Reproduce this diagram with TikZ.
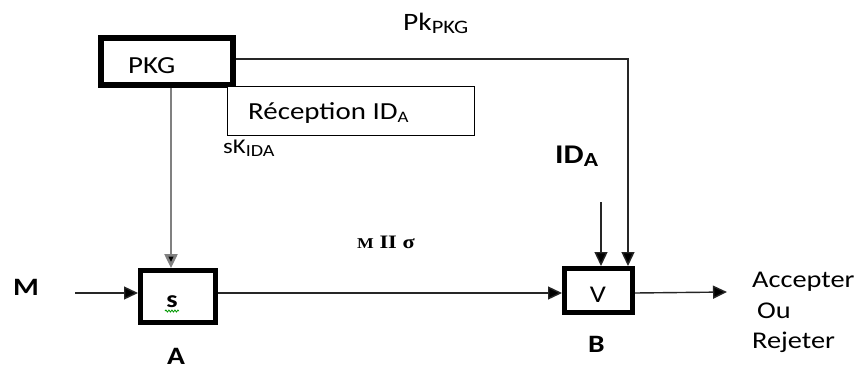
\documentclass[tikz,border=0pt]{standalone}
\usepackage{fontspec}
\setmainfont{Carlito}[FakeStretch=1.18]
\newfontfamily\serifbold{Liberation Serif}[FakeStretch=1.18]
\usetikzlibrary{arrows.meta,decorations.pathmorphing}

\newcommand\fs[1]{\fontsize{#1}{#1}\selectfont}
\newcommand\lowsub[2]{\raisebox{-3pt}{\fs{#1}#2}}

\begin{document}
\begin{tikzpicture}[x=1pt,y=-1pt,
  boxnode/.style={draw=black, fill=white, inner sep=0pt},
  txt/.style={inner sep=0pt, anchor=base west, text=black},
  ctxt/.style={inner sep=0pt, anchor=base, text=black},
  wire/.style={draw=black!85, line width=1.4pt},
  graywire/.style={draw=black!50, line width=2.5pt},
  tip/.style={-{Triangle[length=14pt,width=13pt,fill=black]}}
]
\fill[white] (0,0) rectangle (863,370);
\useasboundingbox (0,0) rectangle (863,370);

% key generator and the reception box
\node[boxnode, line width=6pt, minimum width=132pt, minimum height=47pt] (pkg) at (167,61.5) {};
\node[txt, font=\fs{24.5}] (pkgtxt) at (128,73) {PKG};
\node[boxnode, line width=1.2pt, minimum width=247pt, minimum height=49pt] (recep) at (351,111) {};
\node[txt, font=\fs{24.5}] (receptxt) at (248,119) {Réception ID\lowsub{16}{A}};

% signer and verifier boxes
\node[boxnode, line width=5pt, minimum width=75pt, minimum height=52pt] (sbox) at (178,296.5) {};
\node[ctxt, font=\bfseries\fs{24}] (stxt) at (172,307) {s};
\draw[green!60!black, line width=0.8pt, decorate,
      decoration={snake, segment length=3pt, amplitude=1pt}]
      ([xshift=-7pt,yshift=-4pt]stxt.base) -- ([xshift=7pt,yshift=-4pt]stxt.base);
\node[boxnode, line width=5pt, minimum width=68pt, minimum height=44pt] (vbox) at (598.5,290.5) {};
\node[ctxt, font=\fs{24}] (vtxt) at (598,302) {V};

% labels
\node[txt, font=\fs{25}] (pk) at (403,30) {Pk\lowsub{19}{PKG}};
\node[txt, font=\fs{21}] (sk) at (223,153) {sK\lowsub{17}{IDA}};
\node[txt, font=\bfseries\fs{27}] (ida) at (555,163) {ID\lowsub{20}{A}};
\node[txt, font=\bfseries\fs{25}] (m) at (13,295) {M};
\node[txt, font=\bfseries\fs{25}] (a) at (167,364) {A};
\node[txt, font=\bfseries\fs{25}] (b) at (588,352) {B};
\node[txt, font=\serifbold\bfseries\fs{19}] (msig) at (357,248) {{\fs{15}M} II σ};
\node[txt, font=\fs{24}] (acc) at (752,287) {Accepter};
\node[txt, font=\fs{24}] (ou) at (757,318) {Ou};
\node[txt, font=\fs{24}] (rej) at (752,348) {Rejeter};

% free ends of the connectors
\coordinate (min) at (75,293);
\coordinate (idin) at (601,202);
\coordinate (out) at (727,292);

% connectors
\draw[graywire, tip] ([xshift=4pt]pkg.south) -- ([xshift=-7pt]sbox.north);
\draw[wire, tip] ([yshift=2.5pt]pkg.east) -| ([xshift=29.5pt]vbox.north);
\draw[wire, tip] (idin) -- (idin |- vbox.north);
\draw[wire, tip] (min) -- (min -| sbox.west);
\draw[wire, tip] (sbox.east |- min) -- (vbox.west |- min);
\draw[wire, tip] (vbox.east |- min) -- (out);
\end{tikzpicture}
\end{document}
